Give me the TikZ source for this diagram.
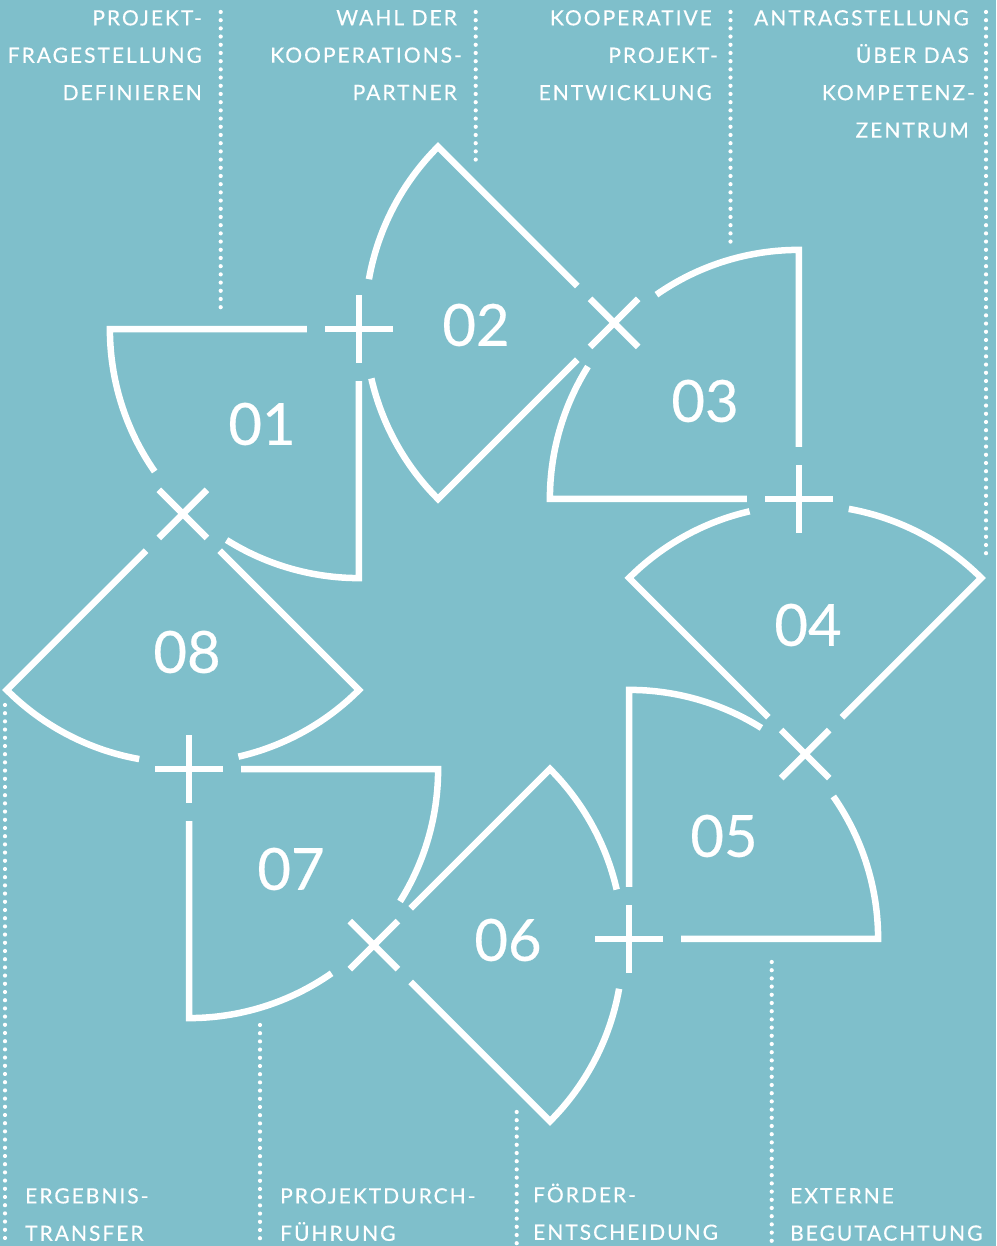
\documentclass[tikz,border=0pt]{standalone}
\usepackage{fontspec}
\setmainfont{Lato}
\newfontfamily\labfont[LetterSpace=9.5,FakeBold=0.4]{Lato}
\newfontfamily\numfont[FakeBold=0.4]{Lato}
\usetikzlibrary{calc}
\definecolor{bg}{RGB}{127,191,203}
\begin{document}
\begin{tikzpicture}[x=1pt,y=1pt,
  wline/.style={draw=white, line width=6.5pt, line join=miter, line cap=butt},
  dots/.style={draw=white, line width=4.2pt, line cap=round, dash pattern=on 0pt off 8.2pt},
  lab/.style={text=white, inner sep=0pt, font=\labfont\fontsize{21}{37.4}\selectfont},
  num/.style={text=white, inner sep=0pt, font=\numfont\fontsize{58}{60}\selectfont}]
\fill[bg] (0,0) rectangle (996,1246);
\useasboundingbox (0,0) rectangle (996,1246);
\coordinate (C) at (494,612);
\foreach \k in {0,...,7} {
  \coordinate (M\k) at ($(C)+({113.9-45*\k}:333.5)$);
}
% sectors
\foreach \k in {0,...,7} {
  \pgfmathsetmacro\aa{180-45*\k}
  \pgfmathsetmacro\ab{270-45*\k}
  \pgfmathsetmacro\ga{226.4-45*\k-11.5}
  \pgfmathsetmacro\gb{226.4-45*\k+11.5}
  \draw[wline] ($(M\k)+(\aa:52)$) -- ($(M\k)+(\aa:249)$) arc[start angle=\aa, end angle=\ga, radius=249];
  \draw[wline] ($(M\k)+(\gb:249)$) arc[start angle=\gb, end angle=\ab, radius=249] -- ($(M\k)+(\ab:52)$);
}
% markers
\foreach \k in {0,...,7} {
  \pgfmathsetmacro\r{-45*\k}
  \draw[wline] ($(M\k)+(\r:34)$) -- ($(M\k)+(\r+180:34)$);
  \draw[wline] ($(M\k)+(\r+90:34)$) -- ($(M\k)+(\r+270:34)$);
}
% numbers
\foreach \p/\t in {{(262,822)}/01,{(476,921)}/02,{(705,845)}/03,{(808,621)}/04,{(724,410)}/05,{(508,306)}/06,{(291,377)}/07,{(187,594)}/08} {
  \node[num] (n\t) at \p {\t};
}
% top labels
\node[lab, anchor=north east, align=right] (t1) at (202,1236) {PROJEKT-\\FRAGESTELLUNG\\DEFINIEREN};
\node[lab, anchor=north east, align=right] (t2) at (457,1236) {WAHL DER\\KOOPERATIONS-\kern-5pt\\PARTNER};
\node[lab, anchor=north east, align=right] (t3) at (712,1236) {KOOPERATIVE\\PROJEKT-\kern-6pt\\ENTWICKLUNG};
\node[lab, anchor=north east, align=right] (t4) at (969,1236) {ANTRAGSTELLUNG\\ÜBER DAS\\KOMPETENZ-\kern-6pt\\ZENTRUM};
% bottom labels
\node[lab, anchor=north west, align=left] (b1) at (25,58) {ERGEBNIS-\\TRANSFER};
\node[lab, anchor=north west, align=left] (b2) at (280,58) {PROJEKTDURCH-\\FÜHRUNG};
\node[lab, anchor=north west, align=left] (b3) at (533,62.5) {FÖRDER-\\ENTSCHEIDUNG};
\node[lab, anchor=north west, align=left] (b4) at (790,58) {EXTERNE\\BEGUTACHTUNG};
% dotted leaders
\coordinate (d1a) at (220.7,1234); \coordinate (d1b) at (220.7,938);
\coordinate (d2a) at (475.7,1234); \coordinate (d2b) at (475.7,1086);
\coordinate (d3a) at (730.5,1234); \coordinate (d3b) at (730.5,1003);
\coordinate (d4a) at (986,1234);   \coordinate (d4b) at (986,686);
\coordinate (d5a) at (5,541);      \coordinate (d5b) at (5,0);
\coordinate (d6a) at (260,221);    \coordinate (d6b) at (260,0);
\coordinate (d7a) at (516.7,134);  \coordinate (d7b) at (516.7,0);
\coordinate (d8a) at (771.7,284);  \coordinate (d8b) at (771.7,0);
\foreach \i in {1,...,8} { \draw[dots] (d\i a) -- (d\i b); }
\end{tikzpicture}
\end{document}
